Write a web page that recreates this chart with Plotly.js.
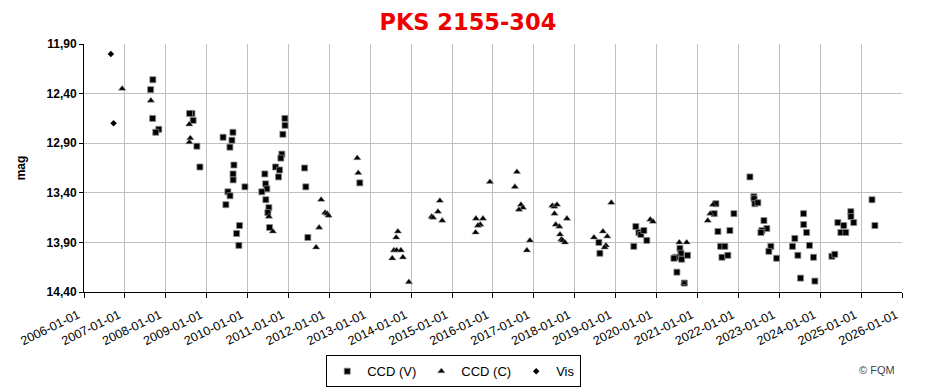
<!DOCTYPE html>
<html>
<head>
<meta charset="utf-8">
<script src="https://cdn.plot.ly/plotly-3.0.1.min.js"></script>
<style>html,body{margin:0;padding:0;background:#fff;}#chart{width:932px;height:392px;}</style>
</head>
<body>
<div id="chart"></div>
<script>
// CCD (V)
const vDates = ['2007-09-08','2007-08-19','2007-09-06','2007-10-31','2007-10-04',
 '2008-08-22','2008-08-01','2008-09-02','2008-10-05','2008-11-01',
 '2009-05-27','2009-08-23','2009-08-14','2009-07-27','2009-09-01','2009-08-24','2009-08-25','2009-12-08','2009-07-09','2009-07-28','2009-06-21','2009-10-21','2009-09-25','2009-10-15',
 '2010-11-03','2010-10-25','2010-11-30','2010-12-01','2010-11-12','2010-09-08','2010-10-14','2010-10-04','2010-06-04','2010-06-11','2010-06-22','2010-05-08','2010-06-13','2010-07-10','2010-07-01','2010-07-16',
 '2011-05-25','2011-06-05','2011-06-23','2012-09-29',
 '2018-08-04','2018-08-13',
 '2019-06-30','2019-07-27','2019-08-14','2019-09-10','2019-10-06','2019-06-12',
 '2020-07-28','2020-08-06','2020-06-21','2020-06-04','2020-08-12','2020-10-04','2020-07-01','2020-09-05',
 '2021-06-14','2021-05-30','2021-07-02','2021-07-26','2021-09-02','2021-08-07','2021-09-29','2021-10-17','2021-11-22',
 '2022-04-14','2022-05-19','2022-05-21','2022-05-28','2022-06-24','2022-08-17','2022-09-12','2022-07-30','2022-07-21','2022-10-18','2022-09-30','2022-12-08',
 '2023-05-20','2023-04-29','2023-06-16','2023-08-06','2023-08-07','2023-09-02','2023-09-28','2023-11-03','2023-07-10','2023-11-15',
 '2024-04-15','2024-05-11','2024-06-07','2024-07-04','2024-07-30','2024-08-17','2024-10-01','2024-10-02','2024-10-27',
 '2025-04-08','2025-05-04'];
const vMags = [12.26,12.36,12.65,12.76,12.79,
 12.60,12.60,12.67,12.93,13.14,
 12.84,12.79,12.87,12.94,13.12,13.21,13.27,13.34,13.39,13.43,13.52,13.73,13.81,13.93,
 13.01,13.05,12.65,12.72,12.81,13.14,13.17,13.24,13.21,13.31,13.36,13.39,13.47,13.55,13.60,13.75,
 13.15,13.34,13.85,13.30,
 13.90,14.01,
 13.74,13.80,13.82,13.78,13.88,13.94,
 13.96,14.01,14.05,14.06,14.07,14.03,14.20,14.31,
 13.51,13.61,13.79,13.94,13.94,14.05,14.03,13.78,13.61,
 13.24,13.44,13.46,13.51,13.50,13.68,13.76,13.78,13.80,13.94,13.99,14.06,
 13.86,13.94,14.03,13.61,13.72,13.80,13.93,14.05,14.26,14.29,
 14.04,14.02,13.70,13.80,13.73,13.80,13.59,13.64,13.70,
 13.47,13.73];

// CCD (C)
const cDates = ['2006-12-08','2007-08-21','2008-07-29','2008-08-07','2008-07-30',
 '2010-07-10','2010-08-15',
 '2011-10-20','2011-11-24','2011-12-12','2011-12-25','2011-10-02','2011-09-05',
 '2012-09-06','2012-09-15',
 '2013-09-04','2013-08-20','2013-07-31','2013-08-24','2013-10-01','2013-10-19','2013-07-16','2013-12-11',
 '2014-09-14','2014-08-28','2014-07-03','2014-07-15','2014-10-05',
 '2015-08-02','2015-10-04','2015-09-10','2015-08-20','2015-07-30','2015-12-05',
 '2016-08-02','2016-07-15','2016-09-07','2016-09-25','2016-08-20','2016-11-26','2016-10-30',
 '2017-06-14','2017-07-02','2017-07-26','2017-07-04','2017-07-15','2017-08-16','2017-10-23','2017-08-22','2017-09-03','2017-09-15','2017-10-05',
 '2018-06-21','2018-09-09','2018-10-18','2018-10-06','2018-09-25','2018-11-23',
 '2019-11-06','2019-11-30',
 '2020-07-22','2020-09-26','2020-09-04',
 '2021-04-02','2021-04-25','2021-05-19'];
const cMags = [12.35,12.47,12.71,12.85,12.89,
 13.64,13.79,
 13.47,13.60,13.61,13.63,13.75,13.95,
 13.05,13.20,
 13.79,13.85,13.98,13.98,13.98,14.05,14.06,14.30,
 13.48,13.59,13.64,13.65,13.68,
 13.66,13.66,13.72,13.73,13.80,13.29,
 13.19,13.34,13.52,13.55,13.57,13.88,13.98,
 13.53,13.54,13.52,13.61,13.72,13.74,13.66,13.82,13.87,13.88,13.90,
 13.85,13.79,13.84,13.93,13.95,13.50,
 13.67,13.69,
 13.90,13.90,14.31,
 13.68,13.61,13.52];

// Vis
const visDates = ['2006-08-29','2006-09-22'];
const visMags = [12.00,12.70];

const yTicks = [11.9,12.4,12.9,13.4,13.9,14.4];

const traces = [
  {x: vDates, y: vMags, name: 'CCD (V)', type: 'scatter', mode: 'markers',
   marker: {symbol: 'square', size: 6, color: '#000', line: {color: '#8a8a8a', width: 0.8}}},
  {x: cDates, y: cMags, name: 'CCD (C)', type: 'scatter', mode: 'markers',
   marker: {symbol: 'triangle-up', size: 6.5, color: '#000', line: {color: '#9a9a9a', width: 0.5}}},
  {x: visDates, y: visMags, name: 'Vis', type: 'scatter', mode: 'markers',
   marker: {symbol: 'diamond', size: 5, color: '#000'}}
];

const layout = {
  width: 932, height: 392,
  margin: {l: 84, r: 30, t: 44, b: 100, autoexpand: false},
  paper_bgcolor: '#fff', plot_bgcolor: '#fff',
  separators: ',.',
  showlegend: true,
  title: {text: '<b>PKS 2155-304</b>', font: {family: 'DejaVu Sans', size: 22.5, color: '#ee0000'},
          x: 0.502, xanchor: 'center', y: 0.943, yanchor: 'middle'},
  xaxis: {
    type: 'date', range: ['2006-01-01', '2026-01-01'],
    tick0: '2006-01-01', dtick: 'M12', tickformat: '%Y-%m-%d',
    tickangle: -26, ticks: 'outside', ticklen: 5, tickcolor: '#000',
    ticklabelshift: -6, ticklabelstandoff: 5,
    tickfont: {family: 'Arial, Liberation Sans', size: 12.5, color: '#000'},
    showgrid: true, gridcolor: '#c0c0c0', gridwidth: 1,
    showline: true, linecolor: '#000', linewidth: 1,
    zeroline: false, fixedrange: true, automargin: false
  },
  yaxis: {
    range: [14.4, 11.9], autorange: false,
    tickvals: yTicks, tickformat: '.2f',
    ticks: 'outside', ticklen: 4, tickcolor: '#000',
    tickfont: {family: 'Arial, Liberation Sans', size: 12, color: '#000', weight: 'bold'},
    title: {text: '<b>mag</b>', font: {family: 'Arial, Liberation Sans', size: 12, color: '#000'}, standoff: 18},
    showgrid: true, gridcolor: '#c0c0c0', gridwidth: 1,
    showline: true, linecolor: '#000', linewidth: 1,
    zeroline: false, fixedrange: true, automargin: false
  },
  legend: {
    orientation: 'h', x: 0.452, xanchor: 'center', y: -0.255, yanchor: 'top',
    bordercolor: '#000', borderwidth: 1, bgcolor: '#fff',
    font: {family: 'Arial, Liberation Sans', size: 13, color: '#000'},
    itemwidth: 30, traceorder: 'normal'
  },
  annotations: [
    {text: '© FQM', xref: 'paper', yref: 'paper', x: 0.97, y: -0.315, xanchor: 'center', yanchor: 'middle',
     showarrow: false, font: {family: 'Arial, Liberation Sans', size: 11, color: '#444'}}
  ]
};

Plotly.newPlot('chart', traces, layout, {displayModeBar: false, staticPlot: true});
</script>
</body>
</html>
